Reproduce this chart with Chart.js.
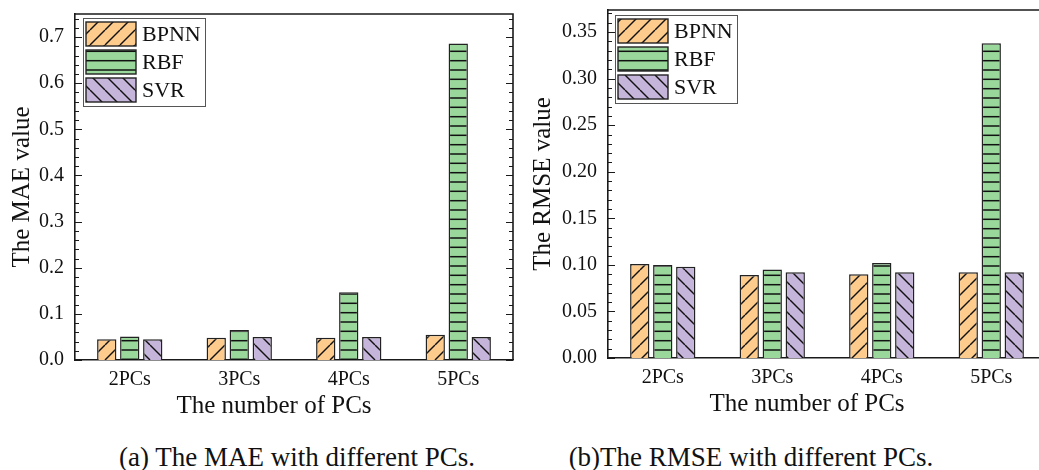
<!DOCTYPE html>
<html>
<head>
<meta charset="utf-8">
<title>MAE and RMSE with different PCs</title>
<script src="https://cdn.jsdelivr.net/npm/chart.js@4.4.1/dist/chart.umd.min.js"></script>
<style>
  html, body { margin: 0; padding: 0; background: #fff; width: 1039px; height: 470px; overflow: hidden; }
  canvas { position: absolute; top: 0; }
  #maeChart { left: 0; }
  #rmseChart { left: 520px; }
  .caption {
    position: absolute; top: 441px; line-height: 32px;
    font-family: "Liberation Serif", "Times New Roman", serif; font-size: 27px; color: #111;
    white-space: nowrap; transform: translateX(-50%);
  }
</style>
</head>
<body>
<canvas id="maeChart" width="520" height="425"></canvas>
<canvas id="rmseChart" width="540" height="425"></canvas>
<div class="caption" style="left:297px">(a) The MAE with different PCs.</div>
<div class="caption" style="left:751px">(b)The RMSE with different PCs.</div>

<script>
const categories = ["2PCs", "3PCs", "4PCs", "5PCs"];
const models = ["BPNN", "RBF", "SVR"];

const maeBPNN = [0.045, 0.048, 0.048, 0.055];
const maeRBF  = [0.051, 0.065, 0.147, 0.686];
const maeSVR  = [0.045, 0.050, 0.050, 0.050];

const rmseBPNN = [0.101, 0.089, 0.090, 0.092];
const rmseRBF  = [0.100, 0.095, 0.102, 0.338];
const rmseSVR  = [0.098, 0.092, 0.092, 0.092];

const maeTicks  = [0, 0.1, 0.2, 0.3, 0.4, 0.5, 0.6, 0.7];
const rmseTicks = [0, 0.05, 0.10, 0.15, 0.20, 0.25, 0.30, 0.35];

const SERIF = "'Liberation Serif', 'Times New Roman', serif";
const INK = "#1a1a1a";

// hatch fills: "/" for BPNN, "-" for RBF, "\" for SVR
function hatch(color, kind) {
  const c = document.createElement("canvas");
  const g = c.getContext("2d");
  if (kind === "h") {
    c.width = 6; c.height = 28;
    g.fillStyle = color; g.fillRect(0, 0, 6, 28);
    g.strokeStyle = "#111"; g.lineWidth = 1.5;
    [4.7, 14, 23.3].forEach(y => { g.beginPath(); g.moveTo(0, y); g.lineTo(6, y); g.stroke(); });
  } else {
    const p = 15;
    c.width = p; c.height = p;
    g.fillStyle = color; g.fillRect(0, 0, p, p);
    g.strokeStyle = "#111"; g.lineWidth = 1.4;
    for (let k = -p; k <= p; k += p) {
      g.beginPath();
      if (kind === "/") { g.moveTo(k, p); g.lineTo(k + p, 0); }
      else { g.moveTo(k, 0); g.lineTo(k + p, p); }
      g.stroke();
    }
  }
  return g.createPattern(c, "repeat");
}

const fills = [hatch("#fdcb8c", "/"), hatch("#99d79b", "h"), hatch("#c6b5da", "\\")];

// box frame, inward major/minor ticks, boxed legend and x title
const framePlugin = {
  id: "frame",
  afterDraw(chart, args, o) {
    const { ctx, chartArea: a, scales: { y } } = chart;
    ctx.save();
    ctx.strokeStyle = INK;
    ctx.lineWidth = 1.6;
    ctx.beginPath();
    ctx.moveTo(a.left, a.top);
    ctx.lineTo(a.right, a.top);
    ctx.lineTo(a.right, a.bottom);
    ctx.stroke();

    ctx.lineWidth = 1.2;
    const n = Math.floor(y.max / o.minor + 1e-6);
    for (let i = 0; i <= n; i++) {
      const v = i * o.minor;
      const py = Math.round(y.getPixelForValue(v)) + 0.5;
      const r = v / o.major;
      const len = Math.abs(r - Math.round(r)) < 1e-6 ? 7 : 4;
      ctx.beginPath();
      ctx.moveTo(a.left, py); ctx.lineTo(a.left + len, py);
      ctx.moveTo(a.right, py); ctx.lineTo(a.right - len, py);
      ctx.stroke();
    }

    // legend
    const lx = a.left + o.legendDx, ly = a.top + o.legendDy;
    ctx.strokeStyle = "#555";
    ctx.lineWidth = 1;
    ctx.strokeRect(lx + 0.5, ly + 0.5, 122, 88);
    ctx.font = "22px " + SERIF;
    ctx.textBaseline = "middle";
    ctx.textAlign = "left";
    chart.data.datasets.forEach((ds, i) => {
      const by = ly + 4 + i * 28;
      ctx.fillStyle = ds.backgroundColor;
      ctx.fillRect(lx + 3, by, 50, 24);
      ctx.strokeStyle = "#222";
      ctx.lineWidth = 1.4;
      ctx.strokeRect(lx + 3, by, 50, 24);
      ctx.fillStyle = "#111";
      ctx.fillText(ds.label, lx + 59, by + 13);
    });

    // x axis title
    ctx.font = "25px " + SERIF;
    ctx.textAlign = "center";
    ctx.fillStyle = "#111";
    ctx.fillText(o.xTitle, (a.left + a.right) / 2 - 20, o.xTitleY);
    ctx.restore();
  }
};

function barChart(id, series, ticks, yMax, yTitle, frame, geom) {
  return new Chart(document.getElementById(id), {
    type: "bar",
    data: {
      labels: categories,
      datasets: models.map((m, i) => ({
        label: m,
        data: series[i],
        backgroundColor: fills[i],
        borderColor: "#222",
        borderWidth: 1.5,
        categoryPercentage: 0.63,
        barPercentage: 0.84
      }))
    },
    options: {
      responsive: false,
      animation: false,
      layout: { padding: { top: geom.top, right: geom.right, left: 0, bottom: 0 } },
      plugins: { legend: { display: false }, tooltip: { enabled: false }, frame },
      scales: {
        x: {
          grid: { display: false, drawTicks: false },
          border: { display: true, color: INK, width: 1.6 },
          ticks: { color: "#111", font: { family: SERIF, size: 20 }, padding: 8 },
          afterFit: s => { s.height = geom.xh; s.paddingLeft = 0; s.paddingRight = 0; }
        },
        y: {
          min: 0,
          max: yMax,
          grid: { display: false, drawTicks: false },
          border: { display: true, color: INK, width: 1.6 },
          ticks: {
            color: "#111",
            font: { family: SERIF, size: 20 },
            padding: 11,
            callback: v => v.toFixed(frame.digits)
          },
          afterBuildTicks: s => { s.ticks = ticks.map(v => ({ value: v })); },
          title: {
            display: true, text: yTitle, color: "#111",
            font: { family: SERIF, size: 25, lineHeight: 1.2 },
            padding: { top: geom.titlePad, bottom: 0 }
          },
          afterFit: s => { s.width = geom.yw; s.paddingTop = 0; s.paddingBottom = 0; }
        }
      }
    },
    plugins: [framePlugin]
  });
}

barChart("maeChart", [maeBPNN, maeRBF, maeSVR], maeTicks, 0.75, "The MAE value",
  { major: 0.1, minor: 0.02, digits: 1, legendDx: 8, legendDy: 4, xTitle: "The number of PCs", xTitleY: 406 },
  { top: 14, right: 7, yw: 75, xh: 65, titlePad: 7 });

barChart("rmseChart", [rmseBPNN, rmseRBF, rmseSVR], rmseTicks, 0.3737, "The RMSE value",
  { major: 0.05, minor: 0.01, digits: 2, legendDx: 7, legendDy: 5, xTitle: "The number of PCs", xTitleY: 404 },
  { top: 10, right: 14, yw: 88, xh: 67, titlePad: 8 });
</script>
</body>
</html>
